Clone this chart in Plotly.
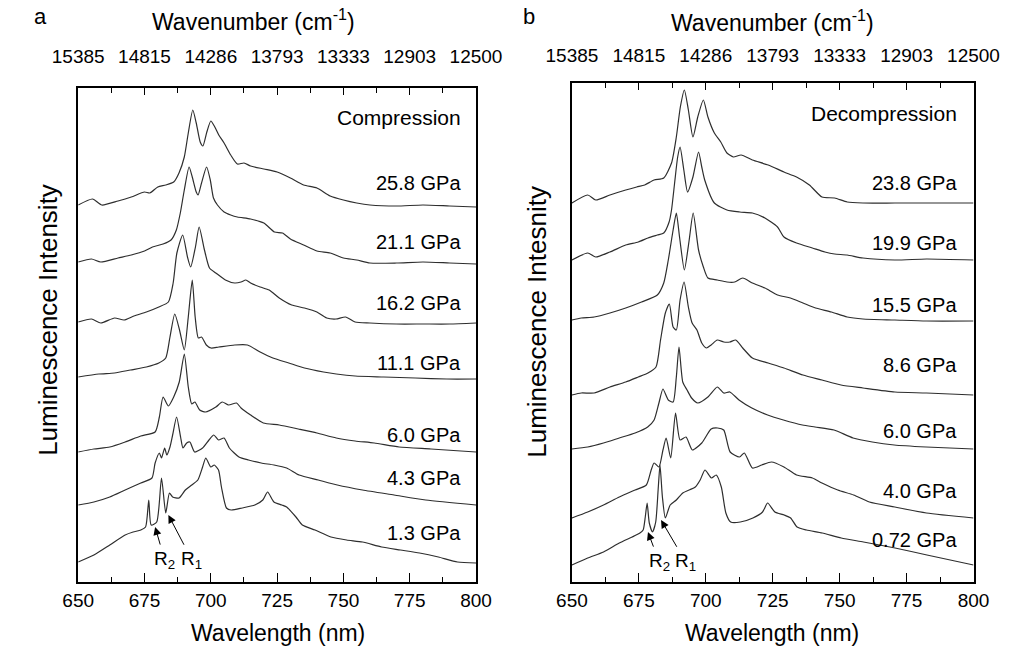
import plotly.graph_objects as go

# ---------------- Panel a : Compression ----------------
a_wl_258 = [650, 655.4, 658.9, 665, 670, 675, 677, 680, 683, 686, 688, 690, 691.5, 693.2, 694.5, 696, 697, 698.5, 700, 701.5, 703, 705, 707.5, 710, 712.5, 715, 720, 725, 730, 735, 740, 745, 750, 755, 760, 770, 780, 790, 800]
a_in_258 = [377, 383, 377, 381, 385, 390, 389, 395, 397, 400, 409, 425, 449, 472, 459, 440, 436, 450, 461, 455, 447, 439, 427, 418, 419, 416, 413, 410, 404, 397, 394, 386, 382, 379, 377, 376, 377, 376, 375]

a_wl_211 = [650, 655, 658.5, 665, 670, 675, 678, 682, 685, 687, 688.5, 690, 691.8, 693, 694.5, 695.2, 696.5, 698.4, 699.8, 701, 702.5, 705, 707.5, 710, 715, 720, 724, 727, 730, 735, 740, 745, 750, 755, 760, 770, 780, 790, 800]
a_in_211 = [320, 323, 320, 324, 327, 331, 335, 338, 342, 352, 369, 392, 415, 405, 390, 387, 399, 415, 402, 384, 377, 370, 367, 365, 363, 359, 350, 349, 343, 337, 331, 329, 324, 322, 319, 319, 320, 319, 318]

a_wl_162 = [650, 655, 658.5, 663.7, 667.3, 671, 675.7, 680.4, 684, 685.8, 687.2, 689.4, 691.2, 692.4, 694.2, 695.6, 697.6, 699.5, 701.9, 705.5, 709, 711.4, 713.2, 715, 718.6, 722, 725.8, 730.5, 735.3, 740, 743.7, 747.2, 750.8, 754.4, 760, 770, 780, 790, 800]
a_in_162 = [260, 263, 259, 264, 262, 266, 270, 275, 280, 299, 329, 347, 325, 315, 335, 355, 332, 314, 309, 302, 299, 300, 302, 299, 295, 292, 284, 277, 274, 270, 264, 263, 265, 260, 259, 258, 258, 258, 259]

a_wl_111 = [650, 657.8, 663.7, 669.7, 675.7, 680.4, 683, 684.6, 686.4, 688.2, 690, 691.5, 693, 694.1, 695.3, 696.5, 698.3, 700.1, 703, 709, 713.8, 718.6, 723.4, 729.4, 735.3, 742.5, 747.3, 754.4, 765.2, 777.1, 789, 800]
a_in_111 = [205, 208, 209, 212, 215, 219, 224, 245, 268, 252, 232, 265, 302, 265, 244, 245, 237, 234, 235, 237, 237, 230, 224, 219, 214, 210, 208, 206, 205, 204, 203, 203]

a_wl_60 = [650, 655.9, 661.9, 667.7, 673.6, 679, 680.6, 682, 684, 686, 688.1, 690, 691.5, 692.8, 694, 695.8, 698, 701.9, 704.3, 706.7, 709.7, 711.4, 715, 719.8, 725.8, 733, 740, 747.3, 754.4, 761.6, 771, 783, 800]
a_in_60 = [130, 133, 135, 140, 146, 150, 165, 185, 176, 185, 200, 228, 195, 178, 180, 172, 170, 175, 180, 177, 179, 174, 167, 159, 157, 153, 149, 144, 141, 139, 135, 133, 130]

a_wl_43 = [650, 655.9, 661.9, 667.7, 673.6, 677.8, 679, 680.6, 681.4, 682.6, 683.4, 684.6, 685.6, 687.1, 688.6, 689.5, 690.9, 692.1, 693.9, 696.9, 699.3, 701.1, 702.9, 705, 707, 710.6, 714.2, 719, 723.8, 728.6, 733.3, 740.5, 747.7, 757.2, 769.1, 781, 800]
a_in_43 = [77, 80, 85, 92, 99, 104, 119, 129, 124, 134, 127, 135, 147, 165, 145, 134, 139, 140, 130, 134, 142, 147, 142, 144, 134, 125, 122, 119, 117, 114, 107, 102, 97, 92, 87, 82, 77]

a_wl_13 = [650, 655.9, 661.9, 667.7, 670.7, 673.6, 675.4, 676.6, 677.5, 679.6, 681.4, 683, 684.4, 685.6, 688, 690.4, 692.8, 695.1, 696.9, 698.1, 700, 701.3, 702.9, 704, 705.9, 707.7, 711.8, 716.6, 719.6, 721.4, 723.8, 726.8, 728.6, 732.1, 734.5, 739.3, 745.3, 751.2, 757.2, 764.4, 771.5, 778.7, 785.8, 793, 800]
a_in_13 = [20, 27, 37, 47, 50, 52, 55, 82, 57, 60, 104, 69, 89, 85, 84, 92, 97, 102, 115, 124, 115, 117, 112, 95, 74, 72, 74, 77, 82, 90, 80, 77, 75, 65, 57, 52, 45, 42, 40, 35, 32, 29, 25, 20, 19]

a_labels = ["25.8 GPa", "21.1 GPa", "16.2 GPa", "11.1 GPa", "6.0 GPa", "4.3 GPa", "1.3 GPa"]
a_label_y = [399, 340, 279, 219, 147, 104, 49]

# ---------------- Panel b : Decompression ----------------
b_wl_238 = [650, 655.9, 658.9, 664.2, 670.1, 674.2, 677.2, 680.7, 684.3, 687.2, 689, 690.5, 692, 693.5, 695.2, 697, 699.1, 700.8, 703.2, 705.6, 707.9, 710.3, 713.2, 717.4, 723.3, 729.2, 733.9, 738.7, 743.4, 748.1, 752.8, 758.7, 770.6, 782.4, 800]
b_in_238 = [379, 387, 382, 387, 392, 395, 397, 402, 404, 419, 445, 475, 492, 472, 445, 465, 482, 465, 449, 440, 429, 425, 427, 422, 417, 410, 405, 397, 385, 384, 380, 379, 379, 379, 379]

b_wl_199 = [650, 655.9, 658.9, 664.2, 670.1, 674.8, 678.4, 681.9, 684.3, 686.3, 687.2, 688.4, 689.5, 690.4, 691.8, 693.2, 695.2, 697.3, 698.5, 699.6, 703.2, 707.9, 712.7, 717.4, 722.1, 726.8, 729.2, 733.9, 739.8, 744.5, 748.1, 752.8, 758.7, 770.6, 782.4, 800]
b_in_199 = [322, 329, 325, 330, 337, 340, 344, 347, 349, 360, 372, 400, 425, 435, 412, 390, 405, 430, 415, 402, 379, 372, 370, 369, 364, 355, 345, 339, 334, 330, 328, 327, 324, 322, 323, 322]

b_wl_155 = [650, 653.5, 658.3, 664.2, 670.1, 676, 681.9, 684.3, 686, 687.8, 689, 690.2, 692, 693.7, 695.3, 697.3, 699.1, 700.8, 704.3, 707.9, 710.8, 713.8, 717.4, 722.1, 726.8, 731.6, 736.3, 741, 746.9, 752.8, 758.7, 770.6, 782.4, 800]
b_in_155 = [262, 264, 265, 269, 274, 280, 287, 299, 322, 352, 369, 345, 312, 340, 369, 332, 315, 304, 302, 300, 300, 304, 299, 294, 287, 284, 279, 274, 270, 265, 263, 262, 261, 261]

b_wl_86 = [650, 653.5, 658.3, 664.2, 670.1, 674.8, 678.4, 681.4, 683.1, 684.9, 686.4, 687.8, 689, 690.4, 691.9, 693.5, 694.9, 696.7, 698.5, 700.2, 702, 704.3, 706.7, 709, 711.2, 713.8, 717.4, 723.3, 729.2, 736.3, 743.4, 750.5, 758.7, 770.6, 782.4, 800]
b_in_86 = [187, 189, 189, 195, 200, 205, 209, 215, 242, 269, 278, 255, 252, 282, 300, 275, 259, 252, 239, 234, 237, 242, 240, 240, 242, 234, 224, 219, 214, 207, 202, 197, 194, 190, 189, 187]

b_wl_60 = [650, 655.9, 661.8, 667.7, 673.6, 678.3, 680.7, 682.5, 684, 686, 687.8, 689, 690, 691.4, 693, 694.7, 697, 700.8, 704.3, 706.7, 709, 712.4, 717.2, 723.1, 729, 736.1, 740.8, 747.9, 755, 762.2, 770.4, 782.3, 800]
b_in_60 = [133, 135, 139, 144, 149, 155, 162, 179, 193, 182, 180, 205, 235, 200, 192, 184, 179, 185, 195, 189, 190, 182, 174, 167, 162, 157, 155, 152, 144, 140, 137, 135, 133]

b_wl_40 = [650, 655.9, 661.8, 667.7, 673.6, 677.8, 679.6, 680.7, 682.5, 684, 685.2, 686.9, 688.7, 690.4, 692.6, 695, 698.5, 702, 704.4, 706.7, 709.1, 712.6, 714.4, 717.4, 720.9, 724.5, 729.2, 733.9, 739.8, 743.4, 749.3, 755.2, 761.1, 770.6, 782.4, 800]
b_in_40 = [64, 70, 77, 85, 92, 97, 112, 119, 115, 132, 144, 124, 169, 142, 145, 132, 139, 153, 154, 152, 130, 125, 129, 114, 117, 120, 115, 107, 104, 99, 92, 87, 80, 75, 69, 64]

b_wl_072 = [650, 655.9, 661.8, 667.7, 672.5, 675.4, 676.6, 677.4, 678.1, 678.9, 680.1, 681.3, 682.2, 682.9, 683.8, 684.9, 686.7, 689, 691.4, 693.8, 696.1, 697.9, 699.7, 702.1, 703.9, 705.8, 707.5, 709.3, 712.9, 717.6, 721.2, 723.1, 725.8, 729.3, 731.7, 734.1, 737.6, 743.5, 750.6, 758.9, 770.7, 782.6, 800]
b_in_072 = [17, 24, 30, 39, 45, 49, 52, 65, 79, 59, 50, 60, 92, 117, 85, 64, 77, 82, 89, 92, 95, 102, 112, 104, 107, 95, 69, 60, 60, 64, 70, 79, 70, 67, 64, 55, 52, 49, 44, 40, 34, 27, 17]

b_labels = ["23.8 GPa", "19.9 GPa", "15.5 GPa", "8.6 GPa", "6.0 GPa", "4.0 GPa", "0.72 GPa"]
b_label_y = [399, 339, 277, 217, 151, 91, 42]

# axis ticks
wl_ticks = [650, 675, 700, 725, 750, 775, 800]
wn_ticktext = ["15385", "14815", "14286", "13793", "13333", "12903", "12500"]

FONT = "Liberation Sans, Arial, sans-serif"
LINE = "#2e2e2e"

fig = go.Figure()

a_series = [(a_wl_258, a_in_258), (a_wl_211, a_in_211), (a_wl_162, a_in_162), (a_wl_111, a_in_111),
            (a_wl_60, a_in_60), (a_wl_43, a_in_43), (a_wl_13, a_in_13)]
b_series = [(b_wl_238, b_in_238), (b_wl_199, b_in_199), (b_wl_155, b_in_155), (b_wl_86, b_in_86),
            (b_wl_60, b_in_60), (b_wl_40, b_in_40), (b_wl_072, b_in_072)]

for wl, it in a_series:
    fig.add_trace(go.Scatter(x=wl, y=it, mode="lines", xaxis="x", yaxis="y",
                             line=dict(color=LINE, width=1.2, shape="spline", smoothing=0.6),
                             showlegend=False, hoverinfo="skip"))
for wl, it in b_series:
    fig.add_trace(go.Scatter(x=wl, y=it, mode="lines", xaxis="x2", yaxis="y2",
                             line=dict(color=LINE, width=1.2, shape="spline", smoothing=0.6),
                             showlegend=False, hoverinfo="skip"))
# invisible traces to activate top axes
fig.add_trace(go.Scatter(x=[650, 800], y=[0, 0], xaxis="x3", yaxis="y", mode="lines",
                         opacity=0, showlegend=False, hoverinfo="skip"))
fig.add_trace(go.Scatter(x=[650, 800], y=[0, 0], xaxis="x4", yaxis="y2", mode="lines",
                         opacity=0, showlegend=False, hoverinfo="skip"))

W, H = 1028, 654
dom_xa = [55 / W, 474 / W]
dom_xb = [575 / W, 998 / W]
dom_ya = [(H - 582) / H, (H - 88) / H]
dom_yb = [(H - 582) / H, (H - 83) / H]

def bottom_axis(dom, anchor):
    return dict(domain=dom, anchor=anchor, range=[650, 800], tickmode="array", tickvals=wl_ticks,
                ticks="inside", ticklen=9, tickwidth=1.2, tickcolor="black",
                minor=dict(tickmode="linear", tick0=650, dtick=12.5, ticks="inside", ticklen=5,
                           tickwidth=1.2, tickcolor="black", showgrid=False),
                showline=True, linewidth=1.6, linecolor="black", mirror=True,
                showgrid=False, zeroline=False,
                tickfont=dict(family=FONT, size=19, color="black"))

def top_axis(over, anchor, standoff):
    return dict(overlaying=over, anchor=anchor, side="top", range=[650, 800], tickmode="array",
                tickvals=wl_ticks, ticktext=wn_ticktext,
                ticks="inside", ticklen=7, tickwidth=1.2, tickcolor="black",
                minor=dict(tickmode="linear", tick0=650, dtick=12.5, ticks="inside", ticklen=5,
                           tickwidth=1.2, tickcolor="black", showgrid=False),
                showline=False, showgrid=False, zeroline=False, ticklabelstandoff=standoff,
                tickfont=dict(family=FONT, size=19, color="black"))

def y_axis(dom, anchor, top):
    return dict(domain=dom, anchor=anchor, range=[0, top], showticklabels=False, ticks="",
                showline=True, linewidth=1.6, linecolor="black", mirror=True,
                showgrid=False, zeroline=False)

fig.update_layout(
    width=W, height=H, margin=dict(l=0, r=0, t=0, b=0),
    paper_bgcolor="white", plot_bgcolor="white",
    xaxis=bottom_axis(dom_xa, "y"),
    xaxis2=bottom_axis(dom_xb, "y2"),
    xaxis3=top_axis("x", "y", 20),
    xaxis4=top_axis("x2", "y2", 16),
    yaxis=y_axis(dom_ya, "x", 494),
    yaxis2=y_axis(dom_yb, "x2", 499),
)

ann = []
def txt(x, y, s, size, xref="paper", yref="paper", xanchor="center", angle=0):
    ann.append(dict(x=x, y=y, xref=xref, yref=yref, text=s, showarrow=False, xanchor=xanchor,
                    yanchor="middle", textangle=angle,
                    font=dict(family=FONT, size=size, color="black")))

# panel letters & titles
txt(15 / W, 1 - 16 / H, "a", 22)
txt(530 / W, 1 - 17 / H, "b", 22)
txt(240 / W, 1 - 20 / H, "Wavenumber (cm<sup>-1</sup>)", 23)
txt(786 / W, 1 - 21 / H, "Wavenumber (cm<sup>-1</sup>)", 23)
txt(265 / W, 1 - 633 / H, "Wavelength (nm)", 23)
txt(786 / W, 1 - 633 / H, "Wavelength (nm)", 23)
txt(23 / W, 1 - 320 / H, "Luminescence Intensity", 26, angle=-90)
txt(538 / W, 1 - 322 / H, "Luminescence Intesnity", 26, angle=-90)

# curve labels
txt(795, 465, "Compression", 21, "x", "y", "right")
for s, yv in zip(a_labels, a_label_y):
    txt(795, yv, s, 20, "x", "y", "right")
txt(794.7, 469, "Decompression", 21, "x2", "y2", "right")
for s, yv in zip(b_labels, b_label_y):
    txt(794.7, yv, s, 20, "x2", "y2", "right")

# R1 / R2 labels with arrows pointing at the peaks
def rlabel(s, tx, ty, px, py, xr, yr):
    ann.append(dict(x=px, y=py, ax=tx, ay=ty, xref=xr, yref=yr, axref=xr, ayref=yr, text=s,
                    showarrow=True, arrowhead=2, arrowsize=1.6, arrowwidth=1, arrowcolor="black",
                    standoff=0, startstandoff=2,
                    font=dict(family=FONT, size=19, color="black")))

rlabel("R<sub>2</sub>", 682.6, 22, 679.0, 55, "x", "y")
rlabel("R<sub>1</sub>", 692.9, 22, 684.0, 67, "x", "y")
rlabel("R<sub>2</sub>", 682.6, 20, 678.4, 50, "x2", "y2")
rlabel("R<sub>1</sub>", 692.5, 20, 683.3, 62, "x2", "y2")

fig.update_layout(annotations=ann)
fig.write_html("out.html")
